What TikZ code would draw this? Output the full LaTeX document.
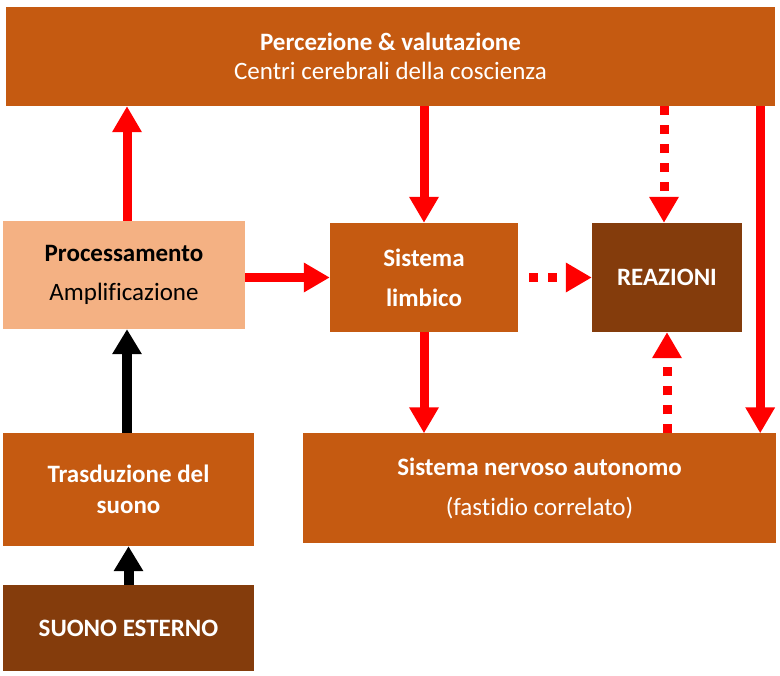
\documentclass[tikz,border=0pt]{standalone}
\usepackage{fontspec}
\setmainfont{Carlito}[RawFeature=-liga]
\usetikzlibrary{arrows.meta}
\definecolor{orangebox}{HTML}{C55A11}
\definecolor{lightbox}{HTML}{F4B183}
\definecolor{darkbox}{HTML}{843C0C}
\definecolor{redline}{HTML}{FF0000}
\begin{document}
\begin{tikzpicture}[x=1pt,y=-1pt,
  box/.style={draw=none,fill=orangebox,text=white,align=center,inner sep=0pt},
  redarrow/.style={-{Triangle[length=26pt,width=28pt]},line width=9pt,redline},
  reddots/.style={-{Triangle[length=26pt,width=28pt]},line width=9pt,redline,dash pattern=on 9pt off 10pt},
  blackarrow/.style={-{Triangle[length=25pt,width=28pt]},line width=10pt,black}]
\useasboundingbox (0,0) rectangle (780,676);
\node[box,minimum width=769pt,minimum height=99pt,font=\fontsize{25}{29}\selectfont] (perc) at (390.5,56.5) {\textbf{Percezione \& valutazione}\\Centri cerebrali della coscienza};
\node[box,fill=lightbox,text=black,minimum width=242pt,minimum height=108pt,font=\fontsize{25}{39}\selectfont] (proc) at (124,275) {\textbf{Processamento}\\Amplificazione};
\node[box,minimum width=188pt,minimum height=109pt,font=\fontsize{25}{40}\selectfont\bfseries] (limb) at (424,277.5) {Sistema\\limbico};
\node[box,fill=darkbox,minimum width=150pt,minimum height=109pt,font=\fontsize{25}{29}\selectfont\bfseries] (reaz) at (667,277.5) {REAZIONI};
\node[box,minimum width=251pt,minimum height=113pt,font=\fontsize{25}{31}\selectfont\bfseries] (tras) at (128.5,489.5) {Trasduzione del\\suono};
\node[box,minimum width=473pt,minimum height=109pt,font=\fontsize{25}{40}\selectfont] (auto) at (539.5,488) {\textbf{Sistema nervoso autonomo}\\(fastidio correlato)};
\node[box,fill=darkbox,minimum width=251pt,minimum height=86pt,font=\fontsize{25}{29}\selectfont\bfseries] (suono) at (128.5,628) {SUONO ESTERNO};
\draw[redarrow] ([xshift=3pt]proc.north) -- ([xshift=3pt]proc.north |- perc.south);
\draw[redarrow] (limb.north |- perc.south) -- (limb.north);
\draw[reddots] ([xshift=-3pt]reaz.north |- perc.south) -- ([xshift=-3pt]reaz.north);
\draw[redarrow] (limb.west -| proc.east) -- (limb.west);
\draw[reddots] ([xshift=11pt]limb.east) -- (reaz.west);
\draw[redarrow] (limb.south) -- (limb.south |- auto.north);
\draw[reddots] (reaz.south |- auto.north) -- (reaz.south);
\draw[redarrow] ([xshift=-15pt]perc.south east) -- ([xshift=-16pt]auto.north east);
\draw[blackarrow] ([xshift=-1.5pt]tras.north) -- ([xshift=-1.5pt]tras.north |- proc.south);
\draw[blackarrow] (suono.north) -- (suono.north |- tras.south);
\end{tikzpicture}
\end{document}
